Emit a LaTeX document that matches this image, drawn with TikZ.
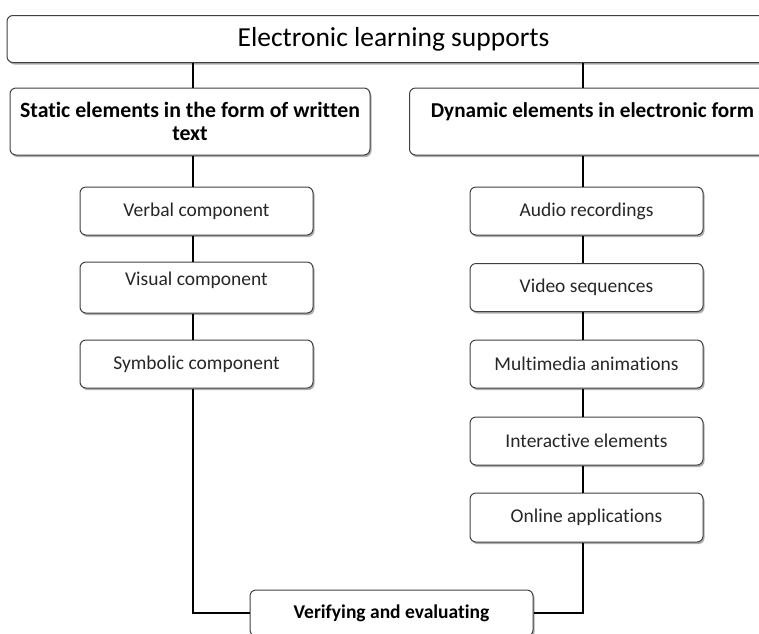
\documentclass[tikz,border=0pt]{standalone}
\usepackage{fontspec}
\setmainfont{Carlito}[Ligatures=NoCommon]
\usetikzlibrary{shadows}
\begin{document}
\begin{tikzpicture}[x=1pt,y=-1pt,
  box/.style={draw=black!75, line width=1pt, rounded corners=6pt, fill=white,
    drop shadow={shadow xshift=1.5pt, shadow yshift=-2pt, fill=black!45, opacity=0.7},
    inner sep=0pt, align=center},
  comp/.style={box, minimum width=233pt, minimum height=48pt, font=\fontsize{19.5}{23}\selectfont, text=black!85},
  head/.style={box, minimum height=67pt, font=\bfseries\fontsize{21.8}{23}\selectfont},
  conn/.style={line width=1.8pt, black}]
\useasboundingbox (0,0) rectangle (759,633);
\begin{scope}
\clip (0,0) rectangle (759,633);
\coordinate (cl) at (193,0);
\coordinate (cr) at (583,0);
\node[box, minimum width=773pt, minimum height=47pt, font=\fontsize{27.5}{30}\selectfont] (top) at (393.5,39) {Electronic learning supports};
\node[head, minimum width=360pt] (static) at (190,121.5) {Static elements in the form of written\\text};
\node[head, minimum width=366pt, text depth=22pt, font=\bfseries\fontsize{21.2}{23}\selectfont] (dynamic) at (592.5,121.5) {Dynamic elements in electronic form};
\node[comp] (verbal) at (196.5,211) {Verbal component};
\node[comp, minimum height=51pt, text depth=17pt] (visual) at (196.5,287.5) {Visual component};
\node[comp] (symb) at (196.5,364) {Symbolic component};
\node[comp] (audio) at (586.5,211) {Audio recordings};
\node[comp] (video) at (586.5,287.5) {Video sequences};
\node[comp] (multi) at (586.5,364) {Multimedia animations};
\node[comp] (inter) at (586.5,441) {Interactive elements};
\node[comp, minimum height=49pt] (online) at (586.5,517.5) {Online applications};
\node[box, minimum width=283pt, minimum height=46pt, font=\bfseries\fontsize{19.5}{23}\selectfont] (verify) at (391.5,613) {Verifying and evaluating};
\end{scope}
\draw[conn] (top.south -| cl) -- (static.north -| cl);
\draw[conn] (top.south -| cr) -- (dynamic.north -| cr);
\draw[conn] (static.south -| cl) -- (verbal.north -| cl);
\draw[conn] (verbal.south -| cl) -- (visual.north -| cl);
\draw[conn] (visual.south -| cl) -- (symb.north -| cl);
\draw[conn] (dynamic.south -| cr) -- (audio.north -| cr);
\draw[conn] (audio.south -| cr) -- (video.north -| cr);
\draw[conn] (video.south -| cr) -- (multi.north -| cr);
\draw[conn] (multi.south -| cr) -- (inter.north -| cr);
\draw[conn] (inter.south -| cr) -- (online.north -| cr);
\draw[conn] (symb.south -| cl) |- (verify.west);
\draw[conn] (online.south -| cr) |- (verify.east);
\end{tikzpicture}
\end{document}
